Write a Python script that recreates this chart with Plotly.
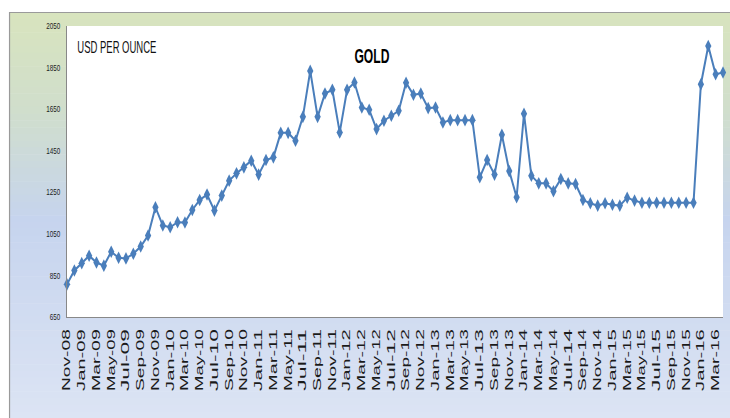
import plotly.graph_objects as go

months = []
names = ["Jan", "Feb", "Mar", "Apr", "May", "Jun", "Jul", "Aug", "Sep", "Oct", "Nov", "Dec"]
for y in range(2008, 2017):
    for m in range(12):
        if (y == 2008 and m < 10) or (y == 2016 and m > 3):
            continue
        months.append(f"{names[m]}-{str(y)[2:]}")

gold = [807, 874, 909, 945, 912, 897, 964, 935, 932, 954, 989, 1042,
        1178, 1090, 1082, 1106, 1105, 1165, 1213, 1239, 1162, 1234, 1306, 1341,
        1370, 1402, 1335, 1405, 1418, 1536, 1536, 1498, 1613, 1834, 1613, 1725,
        1743, 1538, 1743, 1778, 1658, 1647, 1554, 1594, 1618, 1642, 1777, 1719,
        1725, 1655, 1658, 1586, 1597, 1597, 1597, 1597, 1322, 1405, 1335, 1527,
        1352, 1226, 1628, 1330, 1293, 1293, 1255, 1314, 1293, 1290, 1213, 1197,
        1186, 1197, 1190, 1186, 1224, 1210, 1200, 1200, 1200, 1200, 1200, 1200,
        1200, 1200, 1770, 1954, 1818, 1826]

tick_labels = months[::2]
y_ticks = [650, 850, 1050, 1250, 1450, 1650, 1850, 2050]

W, H = 730, 418
L, R, T, B = 67, 6.5, 26, 101.3
pw, ph = W - L - R, H - T - B


def px_x(x):
    return (x - L) / pw


def px_y(y):
    return (H - B - y) / ph


def lerp(c1, c2, t):
    return tuple(round(a + (b - a) * t) for a, b in zip(c1, c2))


stops = [(12, (216, 228, 190)), (110, (208, 222, 204)), (220, (198, 212, 238)), (418, (220, 228, 244))]

shapes = []
n = 60
for i in range(n):
    y0 = 12 + (H - 12) * i / n
    y1 = 12 + (H - 12) * (i + 1) / n
    ym = (y0 + y1) / 2
    for j in range(len(stops) - 1):
        if stops[j][0] <= ym <= stops[j + 1][0]:
            t = (ym - stops[j][0]) / (stops[j + 1][0] - stops[j][0])
            c = lerp(stops[j][1], stops[j + 1][1], t)
            break
    shapes.append(dict(type="rect", xref="paper", yref="paper", layer="below",
                       x0=px_x(9), x1=px_x(W + 5), y0=px_y(y1 + 0.5), y1=px_y(y0),
                       fillcolor=f"rgb{c}", line=dict(width=0)))
# outer border
shapes.append(dict(type="rect", xref="paper", yref="paper", layer="below",
                   x0=px_x(9.5), x1=px_x(W + 20), y0=px_y(H + 20), y1=px_y(12.5),
                   fillcolor="rgba(0,0,0,0)", line=dict(color="#9a9a9a", width=1.2)))
# plot area
shapes.append(dict(type="rect", xref="paper", yref="paper", layer="below",
                   x0=0, x1=1, y0=0, y1=1, fillcolor="white", line=dict(width=0)))

fig = go.Figure()
fig.add_trace(go.Scatter(
    x=months, y=gold, mode="lines+markers",
    line=dict(color="#4a7ebb", width=2),
    marker=dict(symbol="diamond-tall", size=9, color="#4a7ebb", line=dict(width=0)),
    cliponaxis=False, showlegend=False,
))

fig.update_layout(
    width=W, height=H,
    margin=dict(l=L, r=R, t=T, b=B, pad=0),
    paper_bgcolor="#ffffff",
    plot_bgcolor="white",
    shapes=shapes,
    xaxis=dict(type="category", range=[0, len(months) - 1], tickmode="array",
               tickvals=tick_labels, ticktext=tick_labels, tickangle=-90,
               showgrid=False, zeroline=False, showline=True, linecolor="#888888", linewidth=1,
               ticks="", ticklabelstandoff=7,
               tickfont=dict(family="Liberation Sans, Arial, sans-serif", size=10.5, color="#1a1a1a")),
    yaxis=dict(range=[650, 2050], tickmode="array", tickvals=y_ticks,
               showgrid=False, zeroline=False, showline=True, linecolor="#888888", linewidth=1,
               ticks="", ticklabelstandoff=4,
               tickfont=dict(family="Liberation Sans, Arial, sans-serif", size=9, color="#222222")),
    annotations=[
        dict(text="USD PER OUNCE", xref="paper", yref="paper", x=px_x(117.5), y=px_y(47),
             xanchor="center", yanchor="middle", showarrow=False,
             font=dict(family="Liberation Sans, Arial, sans-serif", size=17, color="#111111")),
        dict(text="<b>GOLD</b>", xref="paper", yref="paper", x=px_x(372), y=px_y(56),
             xanchor="center", yanchor="middle", showarrow=False,
             font=dict(family="Liberation Sans, Arial, sans-serif", size=20, color="#000000")),
    ],
)

post = """
document.body.style.margin = '0';
document.body.style.padding = '0';
function fitText() {
  var gd = document.getElementById('{plot_id}');
  if (!gd) return;
  gd.querySelectorAll('.xtick text').forEach(function (t) {
    var n = (t.textContent || '').length;
    t.setAttribute('lengthAdjust', 'spacingAndGlyphs');
    t.setAttribute('textLength', (10.3 * n).toFixed(1));
  });
  gd.querySelectorAll('.ytick text').forEach(function (t) {
    var n = (t.textContent || '').length;
    t.setAttribute('lengthAdjust', 'spacingAndGlyphs');
    t.setAttribute('textLength', (3.5 * n).toFixed(1));
  });
  gd.querySelectorAll('.annotation-text').forEach(function (t) {
    var s = t.textContent || '';
    var w = null;
    if (s.indexOf('USD') === 0) w = 79;
    if (s === 'GOLD') w = 35;
    if (w !== null) {
      t.setAttribute('lengthAdjust', 'spacingAndGlyphs');
      t.setAttribute('textLength', String(w));
    }
  });
}
fitText();
var gdp = document.getElementById('{plot_id}');
if (gdp && gdp.on) gdp.on('plotly_afterplot', fitText);
setTimeout(fitText, 200);
"""

fig.write_html("out.html", post_script=post, config={"displayModeBar": False})
